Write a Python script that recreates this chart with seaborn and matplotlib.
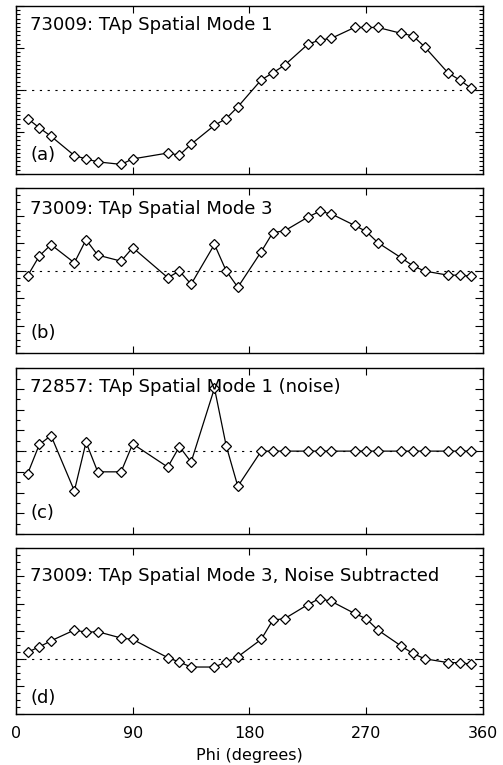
import numpy as np
import pandas as pd
import matplotlib
matplotlib.use("Agg")
import matplotlib.pyplot as plt
from matplotlib.ticker import MultipleLocator
import seaborn as sns

# Azimuthal sample positions (degrees)
phi = [9, 18, 27, 45, 54, 63, 81, 90, 117, 126, 135, 153, 162, 171,
       189, 198, 207, 225, 234, 243, 261, 270, 279, 297, 306, 315,
       333, 342, 351]

# (a) 73009 spatial mode 1
mode1_73009 = [-0.68, -0.90, -1.10, -1.56, -1.64, -1.71, -1.77, -1.64,
               -1.50, -1.55, -1.29, -0.84, -0.68, -0.40, 0.24, 0.41,
               0.59, 1.09, 1.19, 1.23, 1.49, 1.49, 1.49, 1.35, 1.29,
               1.03, 0.41, 0.24, 0.04]

# (b) 73009 spatial mode 3
mode3_73009 = [-0.18, 0.54, 0.95, 0.29, 1.13, 0.57, 0.35, 0.84, -0.25,
               -0.01, -0.49, 0.96, 0.00, -0.60, 0.69, 1.39, 1.45, 1.95,
               2.16, 2.07, 1.65, 1.43, 1.02, 0.47, 0.18, -0.01, -0.16,
               -0.16, -0.20]

# (c) 72857 spatial mode 1 (noise)
mode1_72857 = [-1.09, 0.32, 0.75, -1.92, 0.43, -1.00, -1.00, 0.35, -0.77,
               0.22, -0.53, 3.04, 0.27, -1.70, 0.0, 0.0, 0.0, 0.0, 0.0,
               0.0, 0.0, 0.0, 0.0, 0.0, 0.0, 0.0, 0.0, 0.0, 0.0]

# (d) 73009 spatial mode 3, noise subtracted
mode3_sub = [0.24, 0.43, 0.65, 1.04, 0.96, 0.98, 0.75, 0.70, 0.04, -0.12,
             -0.30, -0.30, -0.12, 0.07, 0.70, 1.40, 1.45, 1.96, 2.18, 2.08,
             1.64, 1.45, 1.04, 0.46, 0.19, 0.00, -0.14, -0.14, -0.20]

titles = ["73009: TAp Spatial Mode 1",
          "73009: TAp Spatial Mode 3",
          "72857: TAp Spatial Mode 1 (noise)",
          "73009: TAp Spatial Mode 3, Noise Subtracted"]
tags = ["(a)", "(b)", "(c)", "(d)"]
xtick_vals = [0, 90, 180, 270, 360]

sns.set_style("ticks")
plt.rcParams["font.family"] = ["DejaVu Sans"]
plt.rcParams.update({"text.color": "black", "axes.labelcolor": "black",
                     "xtick.color": "black", "ytick.color": "black",
                     "axes.edgecolor": "black"})

fig = plt.figure(figsize=(5.03, 7.65), dpi=100)

# panel geometry: [left, bottom, width, height], ylim, minor step, title y, tag y
panels = [
    ([0.0318, 0.7725, 0.9284, 0.2196], (-2, 2), 0.1, 0.887, 0.113),
    ([0.0318, 0.5382, 0.9284, 0.2157], (-3, 3), 0.25, 0.875, 0.123),
    ([0.0318, 0.3020, 0.9284, 0.2166], (-4, 4), 0.5, 0.885, 0.125),
    ([0.0318, 0.0667, 0.9284, 0.2166], (-2, 4), 0.25, 0.835, 0.095),
]
series = [mode1_73009, mode3_73009, mode1_72857, mode3_sub]

for i, (geom, ylim, minor, ty, gy) in enumerate(panels):
    ax = fig.add_axes(geom)
    df = pd.DataFrame({"phi": phi, "amp": series[i]})
    ax.axhline(0, color="black", lw=0.8, linestyle=(0, (2, 5)), zorder=1)
    sns.lineplot(data=df, x="phi", y="amp", ax=ax, color="black", lw=0.9,
                 marker="D", markersize=5.5, markerfacecolor="white",
                 markeredgecolor="black", markeredgewidth=0.9, zorder=3)
    ax.set_xlim(0, 360)
    ax.set_ylim(*ylim)
    ax.set_xticks(xtick_vals)
    ax.yaxis.set_major_locator(MultipleLocator(1))
    ax.yaxis.set_minor_locator(MultipleLocator(minor))
    ax.tick_params(axis="both", which="both", direction="in",
                   top=True, right=True, color="black", labelcolor="black",
                   width=0.8)
    ax.tick_params(axis="y", which="major", length=5.5)
    ax.tick_params(axis="y", which="minor", length=3.2)
    ax.tick_params(axis="x", which="major", length=5)
    ax.set_yticklabels([])
    ax.set_ylabel("")
    for s in ax.spines.values():
        s.set_linewidth(1.0)
        s.set_color("black")
    ax.text(0.03, ty, titles[i], transform=ax.transAxes, fontsize=13,
            ha="left", va="center", color="black")
    ax.text(0.03, gy, tags[i], transform=ax.transAxes, fontsize=13,
            ha="left", va="center", color="black")
    if i < 3:
        ax.set_xticklabels([])
        ax.set_xlabel("")
    else:
        ax.set_xticklabels([str(v) for v in xtick_vals], fontsize=11.5)
        ax.tick_params(axis="x", pad=9)
        ax.set_xlabel("Phi (degrees)", fontsize=11.5, labelpad=5,
                      color="black")

fig.savefig("out.png", dpi=100)
